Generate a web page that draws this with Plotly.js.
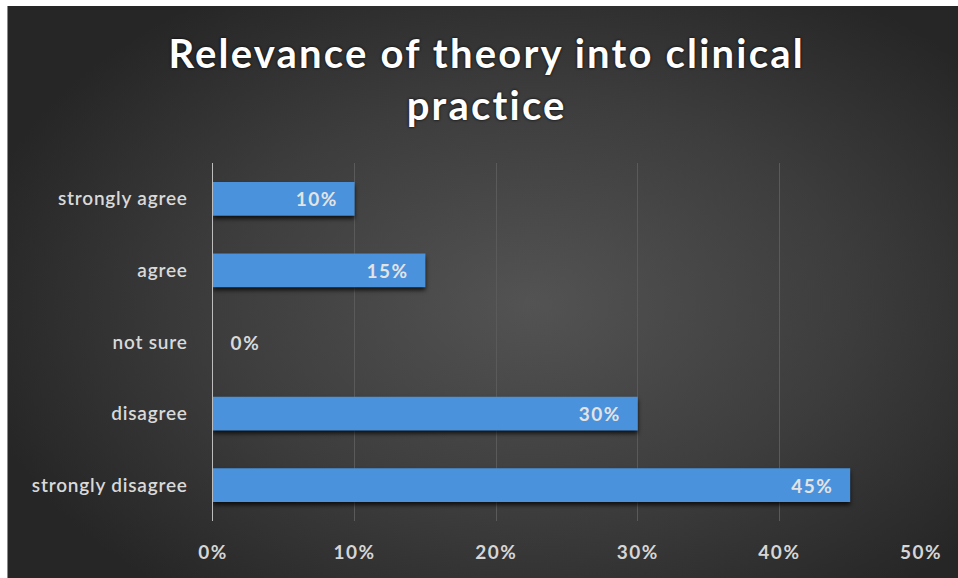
<!DOCTYPE html>
<html>
<head>
<meta charset="utf-8">
<script src="https://cdn.plot.ly/plotly-3.0.1.min.js"></script>
<style>
  html, body { margin: 0; padding: 0; background: #ffffff; }
  #frame {
    position: absolute; left: 7px; top: 6px; width: 951px; height: 572px;
    border-left: 1px solid #8a8a8a;
    background: radial-gradient(ellipse 60% 65% at 55% 52%, #535353 0%, #3d3d3d 55%, #262626 100%);
  }
  #chart { position: absolute; left: 0; top: 0; width: 958px; height: 578px; }
  .gtitle { letter-spacing: 2.2px; }
  .xtick text { letter-spacing: 1.5px; }
  .ytick text { letter-spacing: 0.8px; }
  .bars .point text { letter-spacing: 1.5px; }
  .bars .point path { filter: drop-shadow(0px 3px 2px rgba(0,0,0,0.75)); }
</style>
</head>
<body>
<div id="frame"></div>
<div id="chart"></div>
<script>
// Survey answers, listed from the top row down
const responses = ["strongly agree", "agree", "not sure", "disagree", "strongly disagree"];
const shares = [0.10, 0.15, 0.00, 0.30, 0.45];
const xTickValues = [0, 0.1, 0.2, 0.3, 0.4, 0.5];
const xTickLabels = ["0%", "10%", "20%", "30%", "40%", "50%"];

const labelFont = "Lato, 'Open Sans', sans-serif";
const nb = "\u00a0";

// percentage labels: inside bars keep a little gap from the bar end,
// the empty category gets its label a bit off the axis
const barLabels = shares.map(v => {
  const pct = Math.round(v * 100) + "%";
  return v > 0 ? pct + nb + nb + nb : nb + nb + nb + pct;
});

const trace = {
  type: "bar",
  orientation: "h",
  y: responses,
  x: shares,
  width: 0.47,
  marker: { color: "#4a92dc", line: { width: 0 } },
  text: barLabels,
  textposition: shares.map(v => (v > 0 ? "inside" : "outside")),
  insidetextanchor: "end",
  textfont: { family: labelFont, size: 19, color: "#e3e3e3", weight: 700 },
  outsidetextfont: { family: labelFont, size: 19, color: "#d9d9d9", weight: 700 },
  cliponaxis: false,
  hoverinfo: "skip"
};

const layout = {
  width: 958,
  height: 578,
  paper_bgcolor: "rgba(0,0,0,0)",
  plot_bgcolor: "rgba(0,0,0,0)",
  margin: { l: 213, r: 37, t: 163, b: 57 },
  showlegend: false,
  title: {
    text: "Relevance of theory into clinical<br>practice",
    font: { family: labelFont, size: 40, color: "#ffffff", weight: 700, shadow: "0px 0px 3px #000000" },
    x: 0.508,
    xanchor: "center",
    yref: "container",
    y: 0.882,
    yanchor: "middle"
  },
  xaxis: {
    range: [0, 0.5],
    tickvals: xTickValues,
    ticktext: xTickLabels,
    showgrid: true,
    gridcolor: "#5a5a5a",
    gridwidth: 1,
    zeroline: false,
    showline: false,
    ticks: "",
    ticklabelstandoff: 18,
    tickfont: { family: labelFont, size: 19, color: "#d6d6d6", weight: 700 },
    fixedrange: true
  },
  yaxis: {
    type: "category",
    autorange: "reversed",
    showgrid: false,
    zeroline: false,
    showline: true,
    linecolor: "#bdbdbd",
    linewidth: 1.5,
    ticks: "",
    ticklabelstandoff: 20,
    tickfont: { family: labelFont, size: 19, color: "#d9d9d9", weight: 600 },
    fixedrange: true
  }
};

Plotly.newPlot("chart", [trace], layout, { displayModeBar: false, staticPlot: true });
</script>
</body>
</html>
